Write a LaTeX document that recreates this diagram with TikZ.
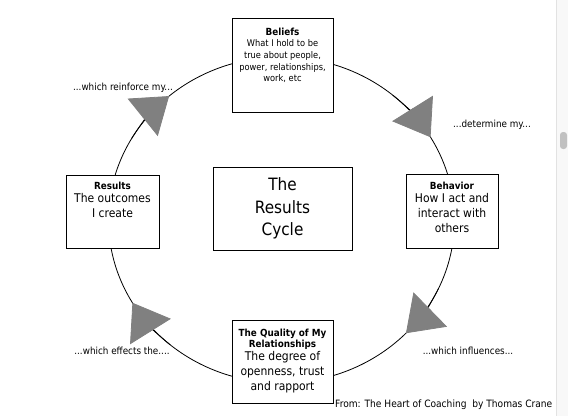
\documentclass[tikz,border=0pt]{standalone}
\usepackage{fontspec}
\setmainfont{DejaVu Sans}[FakeStretch=0.9]
\usepackage{tikz}
\usetikzlibrary{arrows.meta, positioning, calc}
\definecolor{tipgray}{RGB}{128,128,128}
\definecolor{barbg}{RGB}{248,248,248}
\definecolor{barline}{RGB}{226,226,226}
\definecolor{thumbgray}{RGB}{193,193,193}
\newcommand{\stagehead}[1]{{\fontsize{9.8}{11.5}\selectfont\textbf{#1}}}

\begin{document}
\begin{tikzpicture}[x=1pt, y=1pt,
    box/.style={draw=black, line width=0.9pt, fill=white, inner sep=0pt},
    smalltext/.style={align=center, inner sep=0pt, font=\fontsize{9.2}{11.7}\selectfont},
    boxtext/.style={align=center, inner sep=0pt, font=\fontsize{12}{15}\selectfont},
    cue/.style={inner sep=0pt, font=\fontsize{9.8}{11}\selectfont},
    ringarrow/.style={line width=0.8pt, -{Triangle[length=34pt, width=48pt, color=tipgray]}}]
    \useasboundingbox (0,0) rectangle (568,416);

    % Scroll bar
    \fill[barbg] (556,0) rectangle (568,416);
    \draw[barline] (556.5,0) -- (556.5,416);
    \fill[thumbgray, rounded corners=3pt] (560,267) rectangle (567,284);

    % The ring
    \coordinate (hub) at (281.5,196);
    \draw[line width=0.8pt] (hub) ellipse [x radius=173, y radius=163];

    % Arrowheads (clockwise)
    \draw[ringarrow] ($(hub)+(50:173 and 163)$) arc[start angle=50, end angle=30.5, x radius=173, y radius=163];
    \draw[ringarrow] ($(hub)+(-25:173 and 163)$) arc[start angle=-25, end angle=-44, x radius=173, y radius=163];
    \draw[ringarrow] ($(hub)+(230:173 and 163)$) arc[start angle=230, end angle=210.5, x radius=173, y radius=163];
    \draw[ringarrow] ($(hub)+(150:173 and 163)$) arc[start angle=150, end angle=130.5, x radius=173, y radius=163];

    % Stages
    \node[box, minimum width=101pt, minimum height=94pt] (beliefs) at (282.5,351) {};
    \node[smalltext, below=10pt of beliefs.north] (beliefsTxt) {\stagehead{Beliefs}\\What I hold to be\\true about people,\\power, relationships,\\work, etc};

    \node[box, minimum width=92pt, minimum height=74pt] (behavior) at (452,205) {};
    \node[boxtext, below=8pt of behavior.north] (behaviorTxt) {\stagehead{Behavior}\\[-2pt]How I act and\\interact with\\others};

    \node[box, minimum width=101pt, minimum height=83pt] (quality) at (282.5,54.5) {};
    \node[boxtext, below=9pt of quality.north] (qualityTxt) {\stagehead{The Quality of My}\\[-4pt]\stagehead{Relationships}\\[-2pt]The degree of\\openness, trust\\and rapport};

    \node[box, minimum width=93pt, minimum height=73pt] (results) at (112.5,204.5) {};
    \node[boxtext, below=7pt of results.north] (resultsTxt) {\stagehead{Results}\\[-2pt]The outcomes\\I create};

    % Centre title
    \node[box, minimum width=139pt, minimum height=83pt, align=center, font=\fontsize{17}{22.5}\selectfont] (title) at (282.5,207.5) {The\\Results\\Cycle};

    % Cues along the ring
    \node[cue] (reinforce) at (123,328) {...which reinforce my...};
    \node[cue] (determine) at (492,291) {...determine my...};
    \node[cue] (effects) at (122,65) {...which effects the....};
    \node[cue] (influences) at (468,65) {...which influences...};

    % Source
    \node[cue, anchor=west, font=\fontsize{10.1}{11}\selectfont] (credit) at (335,11) {From: The Heart of Coaching\ \ by Thomas Crane};
\end{tikzpicture}
\end{document}
